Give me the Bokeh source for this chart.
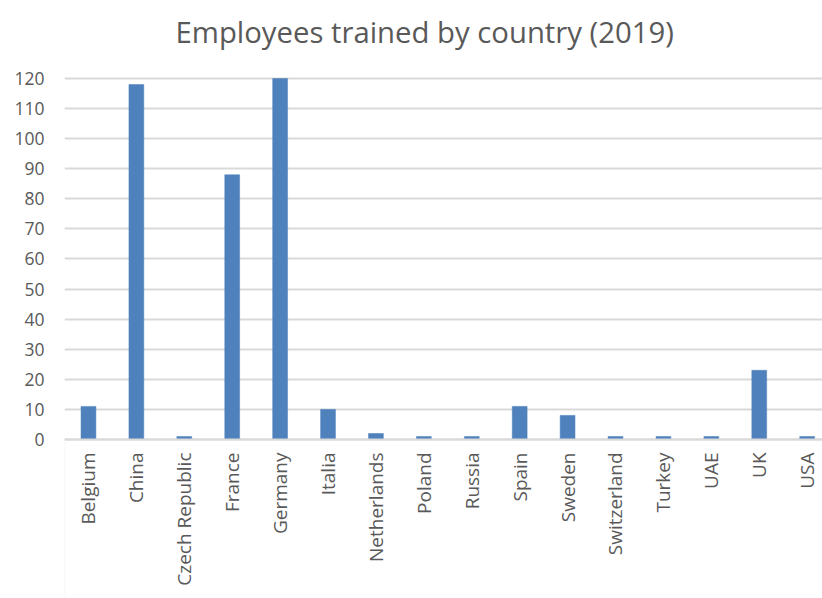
from bokeh.plotting import figure
from bokeh.models import Range1d, FixedTicker, BoxAnnotation, ColumnDataSource
from bokeh.embed import file_html
from bokeh.resources import INLINE
import math

countries = ["Belgium", "China", "Czech Republic", "France", "Germany", "Italia",
             "Netherlands", "Poland", "Russia", "Spain", "Sweden", "Switzerland",
             "Turkey", "UAE", "UK", "USA"]
trained = [11, 118, 1, 88, 120, 10, 2, 1, 1, 11, 8, 1, 1, 1, 23, 1]
y_ticks = list(range(0, 121, 10))
title_text = "Employees trained by country (2019)"

positions = list(range(len(countries)))
src = ColumnDataSource(dict(x=positions, top=trained, name=countries))

p = figure(width=822, height=598, output_backend="svg", toolbar_location=None,
           x_range=Range1d(-0.5, 15.32), y_range=Range1d(-52.86, 125.98),
           min_border_left=64, min_border_right=0, min_border_top=60, min_border_bottom=0)
p.outline_line_color = None
p.background_fill_color = "white"
p.border_fill_color = "white"

p.title.text = title_text
p.title.align = "left"
p.title.offset = 111
p.title.standoff = 17
p.title.text_font = "Open Sans"
p.title.text_font_size = "29.3px"
p.title.text_font_style = "normal"
p.title.text_color = "#595959"

p.vbar(x="x", top="top", bottom=0, width=0.31, source=src,
       fill_color="#4F81BD", line_color="#4F81BD", line_width=0.5)

# y axis
p.yaxis.ticker = FixedTicker(ticks=y_ticks)
p.yaxis.axis_line_color = None
p.yaxis.major_tick_line_color = None
p.yaxis.minor_tick_line_color = None
p.yaxis.major_tick_out = 0
p.yaxis.major_tick_in = 0
p.yaxis.major_label_standoff = 20
p.yaxis.major_label_text_font = "Open Sans"
p.yaxis.major_label_text_font_size = "17.5px"
p.yaxis.major_label_text_color = "#595959"

p.ygrid.grid_line_color = "#d9d9d9"
p.ygrid.grid_line_width = 1.8
p.xgrid.grid_line_color = None

# x axis at y = 0
xa = p.xaxis[0]
xa.fixed_location = 0
xa.ticker = FixedTicker(ticks=positions)
xa.major_label_overrides = {i: c for i, c in zip(positions, countries)}
xa.major_label_orientation = math.pi / 2
xa.axis_line_color = "#d9d9d9"
xa.axis_line_width = 2
xa.major_tick_line_color = None
xa.minor_tick_line_color = None
xa.major_tick_out = 0
xa.major_tick_in = 0
xa.major_label_standoff = 13
xa.major_label_text_font = "Open Sans"
xa.major_label_text_font_size = "19px"
xa.major_label_text_color = "#595959"

# vertical rule at left of the category axis area
p.add_layout(BoxAnnotation(left=-0.5, right=-0.5, top=0, fill_alpha=0,
                           line_color="#d9d9d9", line_width=1.5))

open("out.html", "w").write(file_html(p, INLINE))
